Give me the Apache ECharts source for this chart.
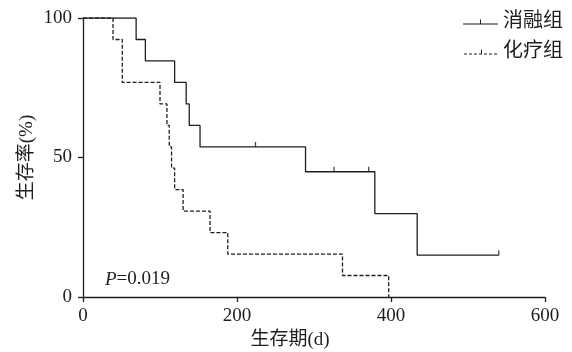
<!DOCTYPE html>
<html><head><meta charset="utf-8">
<script src="https://cdn.jsdelivr.net/npm/echarts@6/dist/echarts.min.js"></script>
<style>html,body{margin:0;padding:0;background:#fff}#c{width:572px;height:352px}</style>
</head><body><div id="c"></div>
<script>
// Kaplan-Meier step data (days, survival %)
const seriesNames = ['消融组', '化疗组'];
const ablationTimes = [0, 69, 81, 119, 134, 138, 152, 289, 379, 434, 540];
const ablationSurv = [100, 92.3, 84.6, 76.9, 69.2, 61.5, 53.8, 44.9, 29.9, 15.0, 15.0];
const ablationCensorTimes = [224, 326, 371, 540];
const ablationCensorSurv = [53.8, 44.9, 44.9, 15.0];
const chemoTimes = [0, 39, 51, 100, 109, 112, 115, 119, 130, 165, 188, 337, 397];
const chemoSurv = [100, 92.3, 76.9, 69.2, 61.5, 53.8, 46.2, 38.5, 30.8, 23.1, 15.4, 7.7, 0];
const xTicks = [0, 200, 400, 600];
const yTicks = [0, 50, 100];

const ink = '#1e1e1e';
const serif = '"Liberation Serif", "Noto Sans CJK SC", serif';
const zip = (a, b) => a.map((v, i) => [v, b[i]]);

const solidIcon = 'path://M0,4 L35,4 L35,5 L0,5 Z M17,0 L18,0 L18,4 L17,4 Z';
let d = '';
for (let x = 0; x < 35; x += 5) d += `M${x},4 L${x+3},4 L${x+3},5 L${x},5 Z `;
const dashIcon = 'path://' + d + 'M17,0 L18,0 L18,4 L17,4 Z';

const chart = echarts.init(document.getElementById('c'), null, {renderer: 'canvas'});
chart.setOption({
  animation: false,
  backgroundColor: '#fff',
  textStyle: {fontFamily: serif, color: ink},
  grid: {left: 83, right: 27, top: 18, bottom: 55, outerBoundsMode: 'none', containLabel: false},
  legend: {
    orient: 'vertical', right: 4, top: 7,
    itemWidth: 35, itemHeight: 5, itemGap: 10,
    textStyle: {fontSize: 20, color: ink, fontFamily: serif},
    itemStyle: {color: ink, borderWidth: 0},
    lineStyle: {width: 0},
    data: [{name: seriesNames[0], icon: solidIcon}, {name: seriesNames[1], icon: dashIcon}]
  },
  xAxis: {
    type: 'value', min: xTicks[0], max: xTicks[xTicks.length - 1], interval: 200,
    name: '生存期(d)', nameLocation: 'middle', nameGap: 34, nameMoveOverlap: false,
    nameTextStyle: {fontSize: 19, color: ink, fontFamily: serif, padding: [0, 48, 0, 0]},
    axisLine: {lineStyle: {color: ink, width: 1.3}},
    axisTick: {show: true, length: 5, lineStyle: {color: ink, width: 1.3}},
    axisLabel: {fontSize: 19, color: ink, margin: 10, fontFamily: serif},
    splitLine: {show: false}
  },
  yAxis: {
    type: 'value', min: yTicks[0], max: yTicks[yTicks.length - 1], interval: 50,
    name: '生存率(%)', nameLocation: 'middle', nameGap: 46, nameRotate: 90, nameMoveOverlap: false,
    nameTextStyle: {fontSize: 19, color: ink, fontFamily: serif},
    axisLine: {show: true, lineStyle: {color: ink, width: 1.3}},
    axisTick: {show: true, length: 5, lineStyle: {color: ink, width: 1.3}},
    axisLabel: {fontSize: 19, color: ink, margin: 11, fontFamily: serif},
    splitLine: {show: false}
  },
  series: [
    {name: seriesNames[0], type: 'line', step: 'end', symbol: 'none',
     data: zip(ablationTimes, ablationSurv),
     lineStyle: {color: ink, width: 1.3}, itemStyle: {color: ink}},
    {name: seriesNames[1], type: 'line', step: 'end', symbol: 'none',
     data: zip(chemoTimes, chemoSurv),
     lineStyle: {color: ink, width: 1.3, type: [4, 2]}, itemStyle: {color: ink}},
    {name: 'censor', type: 'scatter', symbol: 'rect', symbolSize: [1.3, 5], symbolOffset: [0, -2.5],
     data: zip(ablationCensorTimes, ablationCensorSurv), itemStyle: {color: ink}, silent: true}
  ],
  graphic: [{
    type: 'text', left: 105, top: 270,
    style: {
      text: '{i|P}{n|=0.019}',
      rich: {
        i: {fontStyle: 'italic', fontSize: 19, fontFamily: serif, fill: ink},
        n: {fontSize: 19, fontFamily: serif, fill: ink}
      }
    }
  }]
});
</script></body></html>
